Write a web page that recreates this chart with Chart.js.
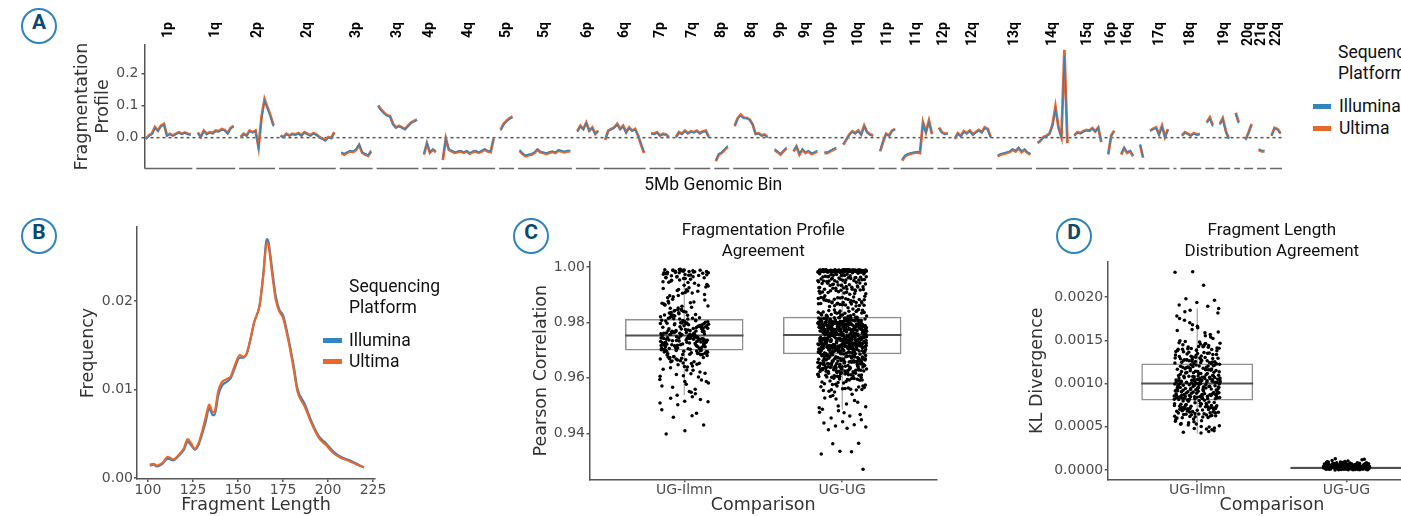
<!DOCTYPE html>
<html>
<head>
<meta charset="utf-8">
<script src="https://cdn.jsdelivr.net/npm/chart.js@4.4.1/dist/chart.umd.min.js"></script>
<style>
html,body{margin:0;padding:0;overflow:hidden;}
body{width:1401px;height:516px;position:relative;background:#fff;font-family:Roboto,sans-serif;}
canvas{position:absolute;}
.tag{position:absolute;width:32px;height:32px;border:2.5px solid #2d84be;border-radius:50%;text-align:center;line-height:32px;font:bold 21px Roboto,sans-serif;color:#0b4a6f;}
.leg{position:absolute;font-size:17.5px;line-height:21px;color:#111;white-space:nowrap;}
.sw{position:absolute;height:5px;}
</style>
</head>
<body>
<div class="tag" style="left:21px;top:8px">A</div>
<div class="tag" style="left:21px;top:218px">B</div>
<div class="tag" style="left:513px;top:218px">C</div>
<div class="tag" style="left:1056px;top:218px">D</div>

<canvas id="chartA" width="1300" height="200" style="left:0;top:0"></canvas>
<canvas id="chartB" width="400" height="301" style="left:0;top:215px"></canvas>
<canvas id="chartC" width="471" height="301" style="left:470px;top:215px"></canvas>
<canvas id="chartD" width="500" height="301" style="left:940px;top:215px"></canvas>

<div class="leg" style="left:1338px;top:42px">Sequencing<br>Platform</div>
<div class="sw" style="left:1313px;top:103.5px;width:18px;background:#3385c0"></div>
<div class="leg" style="left:1339px;top:95.5px">Illumina</div>
<div class="sw" style="left:1313px;top:125.5px;width:18px;background:#e8672c"></div>
<div class="leg" style="left:1339px;top:117.5px">Ultima</div>

<div class="leg" style="left:349px;top:276px">Sequencing<br>Platform</div>
<div class="sw" style="left:323px;top:337.5px;width:19px;background:#3385c0"></div>
<div class="leg" style="left:349px;top:329.5px">Illumina</div>
<div class="sw" style="left:323px;top:359px;width:19px;background:#e8672c"></div>
<div class="leg" style="left:349px;top:351px">Ultima</div>

<script>
const BLUE = '#3385c0';
const ORANGE = '#e8672c';
const AX = '#555';
const TXT = '#4d4d4d';
const TTL = '#333';
const tickFont = {family: 'DejaVu Sans', size: 14};
const titleFont = {family: 'DejaVu Sans', size: 17.5, lineHeight: 1.2};

// ---- panel A: fragmentation profile per chromosome arm (5Mb bins) ----
const armNames = ['1p','1q','2p','2q','3p','3q','4p','4q','5p','5q','6p','6q','7p','7q','8p','8q','9p','9q','10p','10q',
  '11p','11q','12p','12q','13q','14q','15q','16p','16q','17p','17q','18p','18q','19p','19q','20p','20q','21q','22q'];
const armLabels = ['1p','1q','2p','2q','3p','3q','4p','4q','5p','5q','6p','6q','7p','7q','8p','8q','9p','9q','10p','10q',
  '11p','11q','12p','12q','13q','14q','15q','16p','16q','','17q','','18q','','19q','','20q','21q','22q'];
const illuminaProfile = [
  [-0.005,0.005,0.01,0.03,0.02,0.035,0.04,0.005,0.01,0.005,0.01,0.015,0.01,0.015,0.01,0.008],
  [0.015,0.0,0.02,0.01,0.015,0.012,0.02,0.018,0.025,0.022,0.012,0.028,0.035],
  [0.0,0.01,0.005,0.02,0.015,0.02,-0.035,0.06,0.115,0.09,0.065,0.035],
  [0.005,0.0,0.01,0.005,0.01,0.008,0.012,0.005,0.015,0.01,0.005,0.012,0.008,0.0,-0.005,-0.01,0.0,-0.003,0.015],
  [-0.045,-0.05,-0.045,-0.04,-0.042,-0.035,-0.02,-0.045,-0.05,-0.055,-0.04],
  [0.098,0.085,0.075,0.068,0.065,0.04,0.03,0.035,0.03,0.025,0.035,0.045,0.05,0.055],
  [-0.05,-0.015,-0.045,-0.035,-0.042],
  [-0.065,0.0,-0.035,-0.04,-0.045,-0.042,-0.04,-0.045,-0.04,-0.048,-0.042,-0.04,-0.045,-0.04,-0.035,-0.04,-0.042,0.0],
  [0.022,0.04,0.05,0.058,0.063],
  [-0.038,-0.048,-0.055,-0.052,-0.05,-0.045,-0.035,-0.043,-0.045,-0.048,-0.044,-0.042,-0.045,-0.038,-0.04,-0.043,-0.04,-0.04],
  [0.018,0.035,0.025,0.045,0.02,0.03,0.01,0.02],
  [-0.005,0.02,0.025,0.03,0.04,0.025,0.035,0.015,0.03,0.02,0.025,0.005,-0.02,-0.045],
  [0.012,0.01,0.015,0.005,0.01,0.008,0.0],
  [0.0,0.015,0.01,0.02,0.012,0.018,0.015,0.02,0.012,0.018,0.02,0.0],
  [-0.07,-0.05,-0.045,-0.035,-0.025],
  [0.035,0.058,0.068,0.06,0.06,0.055,0.04,0.01,0.012,0.005,0.008,0.0],
  [-0.035,-0.042,-0.05,-0.04,-0.03],
  [-0.04,-0.025,-0.05,-0.035,-0.045,-0.04,-0.048,-0.045,-0.04],
  [-0.045,-0.045,-0.04,-0.035,-0.03],
  [-0.02,-0.005,0.008,0.018,0.012,0.02,0.008,0.035,0.015,0.008,0.005],
  [-0.04,-0.01,0.01,0.005,0.02,0.025],
  [-0.068,-0.055,-0.05,-0.047,-0.045,-0.043,-0.045,0.045,0.015,0.05,0.01],
  [0.03,0.015,0.01,0.012],
  [-0.005,0.012,0.003,0.018,0.012,0.02,0.008,0.015,0.022,0.015,0.03,0.025,0.0],
  [-0.055,-0.05,-0.048,-0.045,-0.042,-0.035,-0.04,-0.03,-0.042,-0.035,-0.045,-0.05],
  [-0.015,-0.008,0.0,0.004,0.01,0.035,0.09,0.03,0.0,0.255,-0.015],
  [0.005,0.015,0.012,0.018,0.022,0.02,0.028,0.018,0.03,-0.012],
  [-0.05,0.005,0.02],
  [-0.05,-0.03,-0.045,-0.04,-0.055],
  [-0.02,-0.06],
  [0.02,0.026,0.03,0.008,0.035,0.0,0.025],
  [0.005],
  [0.005,0.015,0.01,0.005,0.012,0.008,0.01],
  [0.045,0.06,0.035],
  [0.04,0.058,0.02,-0.005],
  [0.075,0.045],
  [-0.008,0.015,0.04],
  [-0.035,-0.04,-0.04],
  [0.005,0.028,0.025,0.012]
];
const ultimaProfile = [
  [-0.003,0.007,0.013,0.033,0.022,0.037,0.043,0.007,0.012,0.007,0.012,0.017,0.012,0.016,0.012,0.01],
  [0.016,0.002,0.022,0.012,0.017,0.014,0.022,0.02,0.027,0.024,0.014,0.03,0.037],
  [0.002,0.012,0.007,0.022,0.017,0.022,-0.03,0.065,0.12,0.094,0.069,0.038],
  [0.007,0.002,0.012,0.007,0.012,0.01,0.014,0.007,0.017,0.012,0.007,0.014,0.01,0.002,-0.003,-0.008,0.002,-0.001,0.017],
  [-0.048,-0.053,-0.047,-0.043,-0.045,-0.038,-0.023,-0.047,-0.053,-0.057,-0.043],
  [0.101,0.088,0.078,0.07,0.067,0.043,0.032,0.037,0.032,0.027,0.037,0.047,0.052,0.057],
  [-0.053,-0.018,-0.047,-0.038,-0.045],
  [-0.07,-0.003,-0.038,-0.043,-0.047,-0.045,-0.043,-0.047,-0.043,-0.05,-0.045,-0.043,-0.047,-0.043,-0.038,-0.043,-0.045,-0.003],
  [0.025,0.043,0.053,0.061,0.066],
  [-0.041,-0.051,-0.058,-0.055,-0.053,-0.048,-0.038,-0.046,-0.048,-0.051,-0.047,-0.045,-0.048,-0.041,-0.043,-0.046,-0.043,-0.043],
  [0.02,0.037,0.027,0.047,0.022,0.032,0.012,0.022],
  [-0.007,0.022,0.027,0.032,0.043,0.027,0.037,0.017,0.032,0.022,0.027,0.007,-0.022,-0.048],
  [0.014,0.012,0.017,0.007,0.012,0.01,0.002],
  [0.002,0.017,0.012,0.022,0.014,0.02,0.017,0.022,0.014,0.02,0.022,0.002],
  [-0.074,-0.053,-0.048,-0.038,-0.028],
  [0.037,0.061,0.072,0.063,0.062,0.057,0.042,0.012,0.014,0.007,0.01,0.002],
  [-0.038,-0.045,-0.053,-0.043,-0.033],
  [-0.043,-0.028,-0.053,-0.038,-0.048,-0.043,-0.051,-0.048,-0.043],
  [-0.048,-0.048,-0.043,-0.038,-0.033],
  [-0.022,-0.007,0.01,0.02,0.014,0.022,0.01,0.038,0.017,0.01,0.007],
  [-0.043,-0.013,0.012,0.007,0.022,0.027],
  [-0.072,-0.058,-0.053,-0.05,-0.048,-0.046,-0.048,0.048,0.017,0.053,0.012],
  [0.032,0.017,0.012,0.014],
  [-0.003,0.014,0.005,0.02,0.014,0.022,0.01,0.017,0.024,0.017,0.032,0.027,0.002],
  [-0.058,-0.053,-0.051,-0.048,-0.045,-0.038,-0.043,-0.033,-0.045,-0.038,-0.048,-0.053],
  [-0.017,-0.01,0.002,0.006,0.013,0.04,0.097,0.033,0.002,0.275,-0.017],
  [0.007,0.017,0.014,0.02,0.024,0.022,0.03,0.02,0.032,-0.014],
  [-0.053,0.007,0.022],
  [-0.053,-0.033,-0.048,-0.043,-0.058],
  [-0.023,-0.063],
  [0.022,0.028,0.032,0.01,0.037,0.002,0.027],
  [0.007],
  [0.007,0.017,0.012,0.007,0.014,0.01,0.012],
  [0.048,0.063,0.038],
  [0.043,0.061,0.022,-0.003],
  [0.078,0.048],
  [-0.006,0.017,0.043],
  [-0.038,-0.043,-0.043],
  [0.007,0.031,0.027,0.014]
];
const profileTicks = [0, 0.1, 0.2];
const profileTickLabels = ['0.0', '0.1', '0.2'];

// ---- panel B: fragment length distribution ----
const fragLength = [101,103,105,108,111,114,117,120,122,124,126,128,130,132,134,136,137,139,141,144,146,148,151,153,155,
  157,159,162,164,166,167,169,171,173,175,178,181,183,187,191,195,199,203,207,212,216,220];
const ultimaFreq = [.0015,.0016,.0014,.0017,.0024,.0021,.0026,.0034,.0044,.0039,.0033,.0039,.0052,.0068,.0083,.0074,.0075,
  .0098,.0108,.0112,.0115,.0126,.0139,.0137,.0142,.0158,.0176,.0195,.0228,.0266,.0262,.0230,.0201,.0188,.0181,.0155,.0122,
  .0098,.0081,.0061,.0045,.0037,.0028,.0023,.0019,.0015,.0012];
const illuminaFreq = [.0014,.0015,.0013,.0016,.0022,.0020,.0025,.0032,.0041,.0037,.0032,.0037,.0049,.0063,.0079,.0071,.0071,
  .0093,.0104,.0109,.0113,.0123,.0136,.0136,.0141,.0157,.0176,.0195,.0229,.0270,.0266,.0235,.0205,.0190,.0184,.0158,.0126,
  .0101,.0084,.0063,.0047,.0039,.0030,.0024,.0020,.0016,.0012];
const lengthTicks = [100, 125, 150, 175, 200, 225];
const freqTicks = [0, 0.01, 0.02];
const freqTickLabels = ['0.00', '0.01', '0.02'];

// ---- panels C and D ----
const comparisons = ['UG-Ilmn', 'UG-UG'];

// Pearson correlation, in units of 1e-4
const pearsonIlmn = [
  9987,9741,9803,9962,9718,9664,9779,9925,9851,9702,9756,9631,9982,9823,9689,9577,9745,9912,9733,9796,
  9971,9768,9684,9839,9990,9724,9612,9788,9944,9706,9817,9751,9869,9532,9676,9796,9958,9739,9715,9647,
  9979,9753,9829,9699,9905,9761,9658,9985,9784,9728,9876,9603,9812,9744,9691,9566,9772,9934,9711,9806,
  9966,9736,9792,9673,9988,9847,9719,9627,9764,9901,9795,9682,9747,9835,9509,9703,9952,9776,9654,9725,
  9983,9771,9694,9826,9945,9738,9662,9808,9753,9893,9717,9587,9976,9782,9708,9859,9742,9636,9729,9798,
  9974,9759,9843,9712,9918,9687,9786,9991,9731,9615,9822,9767,9696,9863,9543,9748,9937,9705,9669,9789,
  9986,9727,9815,9677,9961,9774,9721,9649,9897,9793,9757,9836,9592,9684,9979,9762,9709,9928,9743,9815,
  9969,9784,9701,9855,9989,9733,9641,9805,9769,9915,9692,9752,9818,9522,9671,9947,9778,9716,9881,9737,
  9981,9746,9831,9668,9956,9719,9791,9608,9864,9754,9699,9984,9812,9737,9653,9799,9571,9906,9765,9723,
  9973,9762,9697,9847,9931,9726,9658,9783,9988,9742,9874,9713,9801,9628,9770,9689,9953,9759,9548,9734,
  9977,9788,9714,9829,9964,9681,9749,9896,9621,9776,9703,9986,9841,9758,9665,9797,9732,9919,9594,9771,
  9968,9741,9807,9693,9941,9767,9728,9639,9870,9785,9992,9707,9754,9826,9673,9516,9961,9746,9718,9802,
  9984,9757,9683,9858,9922,9739,9795,9617,9764,9889,9712,9979,9820,9744,9661,9781,9958,9701,9559,9735,
  9972,9773,9834,9706,9987,9752,9643,9813,9767,9908,9696,9731,9852,9581,9685,9949,9790,9722,9866,9748,
  9980,9736,9798,9674,9934,9761,9717,9652,9884,9779,9989,9728,9809,9537,9694,9970,9756,9698,9844,9783,
  9965,9792,9725,9838,9976,9688,9744,9606,9871,9763,9710,9985,9827,9750,9668,9587,9913,9777,9739,9719,
  9485,9463,9458,9430,9409,9397,9472,9503,9514,9551,9526
];
const pearsonUG = [
  9988,9721,9803,9657,9985,9764,9702,9921,9786,9634,9743,9812,9866,9695,9571,9776,9728,9962,9619,9837,
  9983,9749,9791,9688,9989,9708,9817,9645,9953,9767,9733,9604,9905,9797,9716,9558,9872,9760,9675,9524,
  9986,9737,9779,9669,9981,9804,9691,9938,9758,9625,9725,9815,9889,9704,9592,9784,9741,9971,9651,9829,
  9990,9712,9808,9679,9984,9771,9746,9611,9959,9792,9698,9637,9913,9763,9722,9563,9857,9786,9663,9487,
  9982,9755,9766,9642,9987,9819,9709,9926,9774,9686,9738,9798,9881,9693,9577,9757,9731,9966,9628,9841,
  9985,9727,9795,9671,9988,9759,9718,9606,9947,9807,9752,9659,9932,9781,9700,9549,9894,9768,9683,9512,
  9989,9744,9811,9654,9982,9790,9689,9917,9762,9632,9711,9802,9861,9735,9585,9773,9720,9975,9614,9826,
  9984,9706,9783,9692,9986,9801,9739,9648,9951,9765,9714,9620,9908,9789,9696,9568,9878,9754,9667,9474,
  9987,9759,9776,9638,9990,9812,9726,9934,9794,9681,9748,9769,9885,9710,9595,9780,9734,9968,9646,9834,
  9983,9723,9806,9676,9985,9752,9701,9609,9956,9778,9741,9661,9919,9814,9687,9556,9869,9796,9630,9533,
  9988,9738,9770,9662,9981,9785,9713,9941,9805,9624,9730,9817,9874,9698,9581,9761,9747,9973,9655,9822,
  9986,9716,9799,9684,9989,9766,9729,9616,9948,9788,9705,9643,9902,9772,9719,9561,9891,9757,9671,9496,
  9990,9751,9787,9649,9984,9809,9694,9929,9775,9639,9736,9793,9867,9724,9589,9803,9712,9964,9622,9845,
  9982,9733,9762,9673,9987,9797,9744,9602,9954,9756,9690,9658,9915,9782,9707,9552,9883,9769,9680,9541,
  9985,9747,9816,9665,9983,9779,9703,9936,9810,9627,9721,9785,9876,9699,9574,9765,9739,9977,9641,9831,
  9988,9709,9792,9686,9986,9761,9732,9613,9961,9799,9717,9635,9910,9767,9696,9565,9863,9790,9659,9481,
  9984,9742,9780,9656,9990,9814,9725,9923,9771,9678,9750,9806,9888,9711,9598,9774,9727,9969,9633,9839,
  9987,9719,9801,9690,9982,9753,9707,9618,9950,9783,9738,9652,9928,9795,9688,9559,9871,9762,9668,9527,
  9989,9756,9768,9645,9985,9808,9697,9940,9791,9629,9745,9811,9879,9702,9583,9787,9715,9972,9650,9827,
  9983,9726,9809,9681,9988,9776,9740,9605,9957,9763,9709,9639,9906,9801,9719,9571,9886,9749,9677,9468,
  9986,9740,9774,9668,9981,9793,9716,9931,9817,9623,9734,9780,9870,9730,9579,9758,9743,9965,9626,9843,
  9990,9713,9796,9674,9987,9769,9723,9624,9945,9786,9693,9657,9914,9775,9704,9554,9892,9771,9664,9506,
  9982,9753,9789,9651,9984,9802,9710,9924,9764,9687,9729,9797,9883,9717,9591,9777,9736,9979,9637,9836,
  9985,9730,9813,9694,9989,9757,9737,9610,9952,9791,9701,9644,9903,9788,9712,9567,9865,9783,9672,9536,
  9987,9746,9759,9659,9983,9816,9706,9933,9778,9618,9741,9808,9860,9695,9587,9770,9724,9960,9653,9824,
  9984,9720,9803,9679,9986,9774,9748,9621,9949,9806,9718,9631,9920,9760,9690,9562,9880,9794,9661,9492,
  9988,9758,9782,9666,9990,9787,9699,9939,9772,9640,9727,9818,9890,9708,9576,9785,9731,9967,9617,9833,
  9981,9735,9797,9685,9985,9765,9714,9608,9955,9780,9742,9648,9911,9792,9726,9557,9875,9756,9670,9518,
  9984,9735,9788,9671,9987,9804,9722,9927,9769,9648,9744,9799,9872,9701,9605,9778,9732,9963,9631,9838,
  9989,9717,9812,9689,9982,9758,9741,9632,9958,9795,9709,9664,9896,9774,9727,9612,9853,9787,9652,9826,
  9986,9752,9775,9646,9990,9816,9703,9935,9783,9679,9737,9808,9864,9716,9598,9766,9748,9974,9623,9847,
  9983,9728,9794,9683,9985,9770,9731,9627,9946,9801,9694,9650,9917,9791,9711,9607,9884,9759,9676,9821,
  9988,9743,9769,9659,9981,9789,9719,9920,9806,9636,9726,9814,9877,9697,9615,9781,9738,9970,9644,9833,
  9985,9711,9800,9692,9989,9762,9746,9640,9949,9777,9706,9669,9909,9785,9720,9596,9868,9773,9661,9844,
  9990,9756,9783,9652,9983,9810,9700,9942,9764,9629,9749,9796,9882,9725,9603,9771,9715,9976,9638,9829,
  9982,9724,9815,9678,9986,9779,9734,9617,9953,9790,9699,9656,9923,9768,9714,9609,9859,9797,9667,9840,
  9987,9739,9763,9662,9984,9803,9728,9930,9787,9643,9740,9807,9873,9708,9592,9784,9744,9961,9626,9823,
  9984,9714,9797,9687,9988,9767,9719,9625,9944,9809,9712,9673,9912,9776,9731,9601,9890,9763,9657,9836,
  9989,9748,9778,9666,9982,9794,9706,9937,9772,9654,9735,9819,9866,9693,9611,9760,9727,9969,9634,9848,
  9986,9731,9805,9680,9985,9756,9742,9634,9957,9782,9702,9647,9904,9799,9717,9594,9877,9780,9670,9827,
  9983,9754,9771,9657,9990,9813,9713,9925,9792,9637,9745,9802,9887,9720,9606,9789,9733,9965,9641,9835,
  9988,9721,9790,9675,9981,9774,9738,9622,9950,9796,9707,9663,9916,9770,9724,9599,9862,9792,9668,9842,
  9498,9476,9462,9455,9449,9442,9437,9431,9426,9423,9418,9413,9364,9335,9325,9333,9362,9270
];
const pearsonQ1 = [0.9699, 0.9685];
const pearsonMedian = [0.9753, 0.9755];
const pearsonQ3 = [0.9812, 0.9820];
const pearsonLow = [0.9538, 0.9486];
const pearsonHigh = [0.9990, 0.9990];
const pearsonTicks = [0.94, 0.96, 0.98, 1.00];
const pearsonTickLabels = ['0.94', '0.96', '0.98', '1.00'];

// KL divergence, in units of 1e-6
const klIlmn = [
  1012,876,1347,703,1158,942,512,1267,831,1094,655,1613,988,1421,744,1203,905,1055,1308,622,
  947,1121,781,1389,1036,853,1704,668,1244,921,1169,558,1018,1456,812,725,1087,1286,967,639,
  1063,829,1275,716,1142,961,473,1362,884,1009,684,1538,1196,918,1433,757,1251,1047,845,608,
  1175,894,1318,642,1026,979,1782,731,1402,856,1112,539,1073,1259,818,926,1487,698,1214,993,
  1031,861,1293,772,1187,936,591,1371,808,1129,663,1645,998,1440,738,1222,873,1068,1336,615,
  956,1102,794,1412,1041,866,1568,677,1238,913,1183,487,1004,1472,826,712,1096,1279,981,631,
  1079,838,1301,709,1151,954,528,1354,889,1021,694,1829,1207,929,1395,751,1263,1050,851,604,
  1163,901,1329,651,1014,973,1661,736,1418,847,1135,571,1084,1248,820,933,1463,689,1226,985,
  1024,869,1281,766,1177,944,455,1385,815,1117,671,1596,1001,1447,747,1230,882,1059,1342,627,
  951,1108,787,1406,1045,859,1731,672,1255,917,1188,546,1011,1479,834,720,1081,1296,963,645,
  1069,842,1312,728,1147,958,502,1367,878,1029,679,1553,1192,924,1427,760,1242,1039,857,612,
  1171,897,1324,659,1019,986,1814,741,1397,862,1124,583,1076,1271,824,938,1494,701,1218,997,
  1035,872,1289,778,1166,949,521,1378,803,1138,661,1679,994,1436,753,1211,887,1064,1351,618,
  959,1115,799,1393,1052,864,1587,682,1233,910,1199,498,1007,1466,829,733,1090,1304,976,636,
  1084,835,1296,719,1154,966,565,1359,892,1016,690,1751,1203,931,1409,764,1268,1043,848,601,
  1158,905,1335,648,1027,970,1624,747,1424,851,1131,532,1093,1262,817,941,1458,693,1229,989,
  1041,881,1274,712,1139,953,446,1316,838,1072,707,1522,1008,1383,769,1185,914,1056,1247,625,
  2292,2287,2135,1981,1962,1938,1907,1893,1846,1868,428,437,466,479
];
const klUG = [
  32,18,57,9,41,26,73,14,49,35,22,88,5,61,29,44,12,68,38,24,
  27,52,11,39,64,20,46,3,81,31,16,55,36,8,70,25,43,19,59,34,
  45,21,66,13,37,95,28,50,7,62,33,17,76,40,2,54,23,47,30,84,
  15,58,34,72,26,10,48,39,63,19,105,31,53,6,42,67,24,36,12,79,
  38,4,61,29,51,17,86,33,44,22,69,9,56,27,40,14,74,35,118,48,
  23,65,41,11,57,30,78,18,46,37,1,60,28,92,43,16,52,25,71,34,
  50,13,36,83,21,62,44,7,55,32,19,75,39,98,26,47,10,66,30,58,
  28,71,45,16,37,124,24,53,8,64,35,20,49,42,89,14,57,31,77,3,
  42,25,68,34,12,59,39,81,21,47,6,63,30,110,44,18,54,27,72,36,
  19,56,31,94,40,15,67,26,48,11,60,35,85,23,51,4,43,70,29,130
];
const klQ1 = [0.000805, 0.000010];
const klMedian = [0.001000, 0.000025];
const klQ3 = [0.001232, 0.000040];
const klLow = [0.000423, 0.0];
const klHigh = [0.001867, 0.000085];
const klTicks = [0, 0.0005, 0.001, 0.0015, 0.002];
const klTickLabels = ['0.0000', '0.0005', '0.0010', '0.0015', '0.0020'];

// ---------------------------------------------------------------
const GAP = 1.33;       // space between arms, in bins
const BOX_HALF = 0.375; // half box width, in category units

const armStart = [];
let pos = 0;
illuminaProfile.forEach(v => { armStart.push(pos); pos += v.length + GAP; });
const xEnd = pos - GAP - 0.5;

function profilePoints(series) {
  const pts = [];
  series.forEach((vals, i) => {
    vals.forEach((v, j) => pts.push({x: armStart[i] + j, y: v}));
    pts.push({x: armStart[i] + vals.length - 0.5 + GAP / 2, y: null});
  });
  return pts;
}

const armPlugin = {
  id: 'arms',
  beforeDatasetsDraw(chart) {
    const {ctx, chartArea: a, scales: {y}} = chart;
    const y0 = y.getPixelForValue(0);
    ctx.save();
    ctx.setLineDash([3, 3]);
    ctx.strokeStyle = AX;
    ctx.lineWidth = 1.5;
    ctx.beginPath(); ctx.moveTo(a.left, y0); ctx.lineTo(a.right, y0); ctx.stroke();
    ctx.restore();
  },
  afterDraw(chart) {
    const {ctx, chartArea: a, scales: {x}} = chart;
    ctx.save();
    ctx.strokeStyle = '#666';
    ctx.lineWidth = 1.5;
    armNames.forEach((name, i) => {
      const n = illuminaProfile[i].length;
      const x0 = x.getPixelForValue(armStart[i] - 0.5);
      const x1 = x.getPixelForValue(armStart[i] + n - 0.5);
      ctx.beginPath(); ctx.moveTo(x0, a.bottom + 0.5); ctx.lineTo(x1, a.bottom + 0.5); ctx.stroke();
      if (armLabels[i]) {
        ctx.save();
        ctx.translate((x0 + x1) / 2, 22);
        ctx.rotate(-Math.PI / 2);
        ctx.font = 'bold 14px Roboto';
        ctx.fillStyle = '#000';
        ctx.textAlign = 'right';
        ctx.textBaseline = 'middle';
        ctx.fillText(armLabels[i], 0, 0);
        ctx.restore();
      }
    });
    ctx.restore();
  }
};

const common = {
  responsive: false, animation: false, events: [], devicePixelRatio: 1,
};

new Chart(document.getElementById('chartA'), {
  type: 'line',
  data: {datasets: [
    {label: 'Illumina', data: profilePoints(illuminaProfile), borderColor: BLUE, borderWidth: 1.3, pointRadius: 0, spanGaps: false},
    {label: 'Ultima', data: profilePoints(ultimaProfile), borderColor: ORANGE, borderWidth: 2.8, pointRadius: 0, spanGaps: false}
  ]},
  options: {
    ...common,
    layout: {padding: {top: 45, right: 18, left: 0, bottom: 0}},
    plugins: {legend: {display: false}, tooltip: {enabled: false}},
    scales: {
      x: {
        type: 'linear', min: -0.5, max: xEnd,
        grid: {display: false}, border: {display: false}, ticks: {display: false},
        title: {display: true, text: '5Mb Genomic Bin', color: '#111', font: {family: 'Roboto', size: 17.5, lineHeight: 1.2}, padding: {top: 0, bottom: 3.5}},
        afterFit(s) { s.height = 32; }
      },
      y: {
        min: -0.095, max: 0.29,
        afterBuildTicks(s) { s.ticks = profileTicks.map(v => ({value: v})); },
        ticks: {callback: (v, i) => profileTickLabels[i], font: tickFont, color: TXT, padding: 3},
        grid: {drawOnChartArea: false, tickLength: 3, color: AX, lineWidth: 1.5},
        border: {color: AX, width: 1.5},
        title: {display: true, text: ['Fragmentation', 'Profile'], color: TTL, font: titleFont, padding: {top: 71.5, bottom: 0}},
        afterFit(s) { s.width = 144.5; }
      }
    }
  },
  plugins: [armPlugin]
});

new Chart(document.getElementById('chartB'), {
  type: 'line',
  data: {datasets: [
    {label: 'Ultima', data: fragLength.map((x, i) => ({x, y: ultimaFreq[i]})), borderColor: ORANGE, borderWidth: 2.2, pointRadius: 0, cubicInterpolationMode: 'monotone'},
    {label: 'Illumina', data: fragLength.map((x, i) => ({x, y: illuminaFreq[i]})), borderColor: BLUE, borderWidth: 2.2, pointRadius: 0, cubicInterpolationMode: 'monotone'}
  ]},
  options: {
    ...common,
    layout: {padding: {top: 12, right: 25, left: 0, bottom: 0}},
    plugins: {legend: {display: false}, tooltip: {enabled: false}},
    scales: {
      x: {
        type: 'linear', min: 93.9, max: 226.1,
        afterBuildTicks(s) { s.ticks = lengthTicks.map(v => ({value: v})); },
        ticks: {font: tickFont, color: TXT, padding: 0, maxRotation: 0},
        grid: {drawOnChartArea: false, tickLength: 3, color: AX, lineWidth: 1.5},
        border: {color: AX, width: 1.5},
        title: {display: true, text: 'Fragment Length', color: TTL, font: titleFont, padding: {top: 0, bottom: 0.5}},
        afterFit(s) { s.height = 37; }
      },
      y: {
        min: -0.000113, max: 0.02836,
        afterBuildTicks(s) { s.ticks = freqTicks.map(v => ({value: v})); },
        ticks: {callback: (v, i) => freqTickLabels[i], font: tickFont, color: TXT, padding: 1},
        grid: {drawOnChartArea: false, tickLength: 3, color: AX, lineWidth: 1.5},
        border: {color: AX, width: 1.5},
        title: {display: true, text: 'Frequency', color: TTL, font: titleFont, padding: {top: 77.5, bottom: 0}},
        afterFit(s) { s.width = 137; }
      }
    }
  }
});

function jitter(i) { return (((i * 0.618034 + 0.27) % 1) - 0.5) * 0.31; }

function whiskerPoints(lo, q1, q3, hi) {
  const pts = [];
  lo.forEach((v, i) => {
    pts.push({x: i + 1, y: q3[i]}, {x: i + 1, y: hi[i]}, {x: i + 1, y: null},
             {x: i + 1, y: q1[i]}, {x: i + 1, y: v}, {x: i + 1.5, y: null});
  });
  return pts;
}
function medianPoints(med) {
  const pts = [];
  med.forEach((v, i) => pts.push({x: i + 1 - BOX_HALF, y: v}, {x: i + 1 + BOX_HALF, y: v}, {x: i + 1.5, y: null}));
  return pts;
}

function boxChart(id, o) {
  const datasets = [
    ...o.clouds.map((vals, k) => ({
      type: 'scatter',
      data: vals.map((v, j) => ({x: k + 1 + jitter(j), y: v * o.unit})),
      pointRadius: 1.75, pointBackgroundColor: '#000', pointBorderWidth: 0, order: 1
    })),
    {type: 'line', data: medianPoints(o.med), borderColor: '#505050', borderWidth: 2, pointRadius: 0, spanGaps: false, order: 2},
    {type: 'line', data: whiskerPoints(o.lo, o.q1, o.q3, o.hi), borderColor: '#a3a3a3', borderWidth: 1.2, pointRadius: 0, spanGaps: false, order: 3},
    {type: 'bar', data: o.q1.map((v, i) => ({x: i + 1, y: [v, o.q3[i]]})), backgroundColor: 'rgba(0,0,0,0)',
      borderColor: '#8f8f8f', borderWidth: 1.5, borderSkipped: false, categoryPercentage: 0.75, barPercentage: 1, order: 4}
  ];
  return new Chart(document.getElementById(id), {
    type: 'scatter',
    data: {datasets},
    options: {
      ...common,
      layout: {padding: {top: 5, right: o.padRight, left: 0, bottom: 0}},
      plugins: {
        legend: {display: false}, tooltip: {enabled: false},
        title: {display: true, text: o.title, fullSize: false, color: '#111',
          font: {family: 'Roboto', size: 17, weight: 'normal', lineHeight: 1.235}, padding: {top: 0, bottom: 0}}
      },
      scales: {
        x: {
          type: 'linear', min: 0.4, max: 2.6, offset: false,
          afterBuildTicks(s) { s.ticks = comparisons.map((c, i) => ({value: i + 1})); },
          ticks: {callback: (v, i) => comparisons[i], font: tickFont, color: TXT, padding: 0, maxRotation: 0, autoSkip: false},
          grid: {drawOnChartArea: false, offset: false, tickLength: 3, color: AX, lineWidth: 1.5},
          border: {color: AX, width: 1.5},
          title: {display: true, text: 'Comparison', color: TTL, font: titleFont, padding: {top: 0, bottom: 0.5}},
          afterFit(s) { s.height = 36.7; }
        },
        y: {
          min: o.min, max: o.max,
          afterBuildTicks(s) { s.ticks = o.ticks.map(v => ({value: v})); },
          ticks: {callback: (v, i) => o.tickLabels[i], font: tickFont, color: TXT, padding: 1.5},
          grid: {drawOnChartArea: false, tickLength: 3, color: AX, lineWidth: 1.5},
          border: {color: AX, width: 1.5},
          title: {display: true, text: o.yTitle, color: TTL, font: titleFont, padding: {top: o.yTitlePad, bottom: 0}},
          afterFit(s) { s.width = o.yWidth; }
        }
      }
    }
  });
}

boxChart('chartC', {
  title: ['Fragmentation Profile', 'Agreement'], yTitle: 'Pearson Correlation',
  clouds: [pearsonIlmn, pearsonUG], unit: 1e-4,
  q1: pearsonQ1, med: pearsonMedian, q3: pearsonQ3, lo: pearsonLow, hi: pearsonHigh,
  min: 0.9234, max: 1.0018, ticks: pearsonTicks, tickLabels: pearsonTickLabels,
  yWidth: 119.5, yTitlePad: 61.2, padRight: 0
});

boxChart('chartD', {
  title: ['Fragment Length', 'Distribution Agreement'], yTitle: 'KL Divergence',
  clouds: [klIlmn, klUG], unit: 1e-6,
  q1: klQ1, med: klMedian, q3: klQ3, lo: klLow, hi: klHigh,
  min: -0.000107, max: 0.002405, ticks: klTicks, tickLabels: klTickLabels,
  yWidth: 167.7, yTitlePad: 86.5, padRight: 3
});
</script>
</body>
</html>
